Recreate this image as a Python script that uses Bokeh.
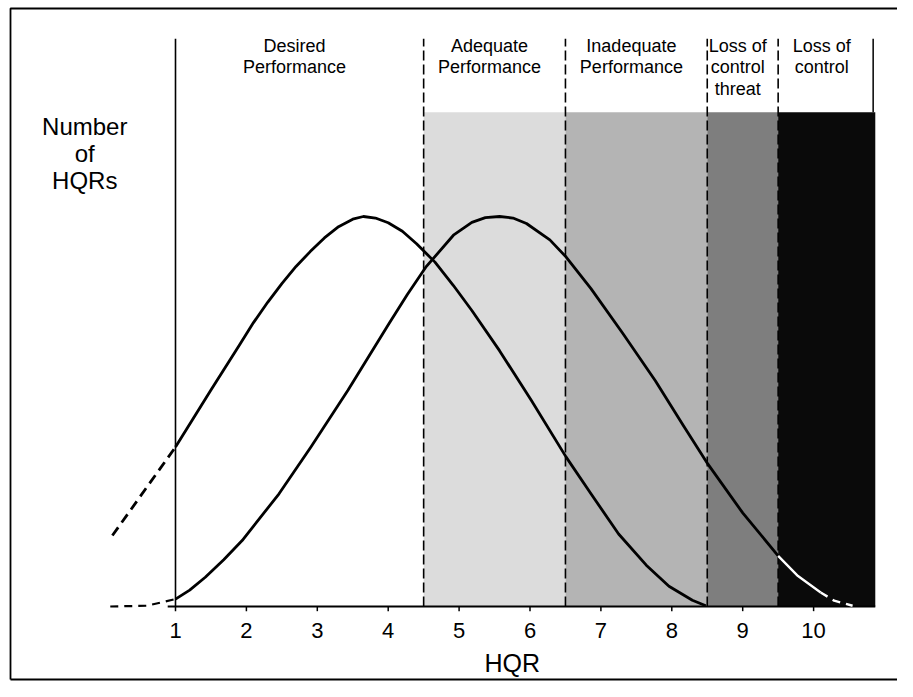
import numpy as np
from bokeh.plotting import figure
from bokeh.models import Range1d
from bokeh.embed import file_html
from bokeh.resources import INLINE
from bokeh.core.properties import value

# ---------------- data ----------------
zone_names = ["Desired\nPerformance", "Adequate\nPerformance", "Inadequate\nPerformance",
              "Loss of\ncontrol\nthreat", "Loss of\ncontrol"]
zone_edges = [1.0, 4.5, 6.5, 8.5, 9.5, 10.87]
zone_fills = [None, "#dcdcdc", "#b4b4b4", "#7e7e7e", "#0a0a0a"]

hqr_ticks = [1, 2, 3, 4, 5, 6, 7, 8, 9, 10]
tick_labels = ["1", "2", "3", "4", "5", "6", "7", "8", "9", "10"]
x_title = "HQR"
y_title = ["Number", "of", "HQRs"]

# curve peaking near HQR 3.65
curve_a_x = [1.0, 1.5, 1.9, 2.1, 2.3, 2.5, 2.7, 2.9, 3.1, 3.3, 3.5, 3.65, 3.82, 4.0, 4.2,
             4.4, 4.66, 4.92, 5.18, 5.57, 6.02, 6.51, 6.86, 7.25, 7.64, 7.96, 8.29, 8.48]
curve_a_y = [40.9, 55.5, 67.0, 72.8, 78.0, 82.8, 87.2, 91.0, 94.5, 97.4, 99.3, 100.0, 99.6,
             98.4, 96.2, 93.0, 88.3, 82.3, 75.9, 65.6, 52.8, 38.3, 28.9, 18.6, 10.6, 5.2, 1.6, 0.2]
curve_a_ext_x = [0.11, 1.0]
curve_a_ext_y = [18.2, 40.9]

# curve peaking near HQR 5.6
curve_b_x = [1.0, 1.2, 1.42, 1.68, 1.94, 2.46, 2.91, 3.43, 4.01, 4.27, 4.53, 4.92, 5.18,
             5.37, 5.57, 5.76, 5.95, 6.28, 6.51, 6.86, 7.31, 7.77, 8.16, 8.51, 9.0, 9.5,
             9.78, 10.1]
curve_b_y = [1.9, 4.2, 7.5, 12.0, 16.9, 28.9, 40.9, 55.4, 72.5, 80.0, 87.0, 95.2, 98.5,
             99.7, 100.0, 99.6, 98.2, 94.0, 89.6, 81.5, 70.0, 57.8, 46.5, 36.5, 24.0, 13.0,
             7.8, 3.6]
curve_b_ext_left_x = [0.08, 0.6, 1.0]
curve_b_ext_left_y = [0.0, 0.2, 1.9]
curve_b_tail_x = [10.1, 10.29, 10.55]
curve_b_tail_y = [3.6, 1.5, 0.2]

shade_top = 126.7
label_top = 145.6

# ---------------- figure ----------------
W, H = 897, 681
PX_PER_X, PX_PER_Y = 70.9, 3.9
x0 = 1 - 175 / PX_PER_X
x1 = x0 + W / PX_PER_X
y1 = 606 / PX_PER_Y
y0 = y1 - H / PX_PER_Y
p = figure(width=W, height=H, x_range=Range1d(x0, x1), y_range=Range1d(y0, y1),
           x_axis_type=None, y_axis_type=None, output_backend="svg",
           toolbar_location=None, min_border=0)
p.grid.visible = False
p.outline_line_color = None
p.background_fill_color = "white"

FONT = value("Liberation Sans")


def lift(fs):
    # raise text so the glyph baseline sits where intended
    return 0.38 * fs / PX_PER_Y


# shaded zones
for i, fill in enumerate(zone_fills):
    if fill is None:
        continue
    p.quad(left=zone_edges[i], right=zone_edges[i + 1], bottom=0, top=shade_top,
           fill_color=fill, line_color=None)

# zone boundaries
p.segment(x0=[zone_edges[0]], y0=[0], x1=[zone_edges[0]], y1=[label_top],
          line_color="black", line_width=1.6)
for e in zone_edges[1:-1]:
    p.segment(x0=[e], y0=[0], x1=[e], y1=[label_top], line_color="black",
              line_width=1.6, line_dash="10 4")
p.segment(x0=[zone_edges[-1] - 0.03], y0=[shade_top], x1=[zone_edges[-1] - 0.03], y1=[label_top],
          line_color="black", line_width=1.5)

# baseline and ticks
p.segment(x0=[0.89], y0=[0], x1=[zone_edges[-1]], y1=[0], line_color="black", line_width=2)
p.segment(x0=hqr_ticks, y0=[0] * len(hqr_ticks), x1=hqr_ticks, y1=[-1.2] * len(hqr_ticks),
          line_color="black", line_width=1.5)

# curves
p.line(curve_a_x, curve_a_y, line_color="black", line_width=2.8, line_join="round")
p.line(curve_a_ext_x, curve_a_ext_y, line_color="black", line_width=2.8, line_dash="10 6")
p.line(curve_b_x, curve_b_y, line_color="black", line_width=2.8, line_join="round")
p.line(curve_b_ext_left_x, curve_b_ext_left_y, line_color="black", line_width=2.2, line_dash="8 6")

# part of the second curve inside the black zone is drawn white
bx = np.array(curve_b_x)
by = np.array(curve_b_y)
mask = bx >= zone_edges[4]
p.line(bx[mask], by[mask], line_color="white", line_width=2.4, line_join="round")
p.line(curve_b_tail_x, curve_b_tail_y, line_color="white", line_width=2.4, line_dash="8 6")

# zone labels
line_y = [142.0, 136.6, 131.0]
for i, name in enumerate(zone_names):
    cx = (zone_edges[i] + zone_edges[i + 1]) / 2 - 0.07
    for j, ln in enumerate(name.split("\n")):
        p.text(x=[cx], y=[line_y[j] + lift(18)], text=[ln], text_align="center",
               text_baseline="alphabetic", text_font=FONT, text_font_size="18px",
               text_color="black")

# y title
for j, ln in enumerate(y_title):
    p.text(x=[-0.28], y=[120.8 - 7.0 * j + lift(24)], text=[ln], text_align="center",
           text_baseline="alphabetic", text_font=FONT, text_font_size="24px",
           text_color="black")

# tick labels
p.text(x=hqr_ticks, y=[-8.2 + lift(22)] * len(hqr_ticks), text=tick_labels, text_align="center",
       text_baseline="alphabetic", text_font=FONT, text_font_size="22px", text_color="black")
p.text(x=[5.75], y=[-16.9 + lift(25)], text=[x_title], text_align="center",
       text_baseline="alphabetic", text_font=FONT, text_font_size="25px", text_color="black")

# scanned frame (top, left, bottom edges)
fx = x0 + 10 / PX_PER_X
fy_top = y1 - 8 / PX_PER_Y
fy_bot = y1 - 679 / PX_PER_Y
p.line([x1, fx, fx], [fy_top, fy_top, fy_bot], line_color="black", line_width=1.8)
p.line([fx, x1], [fy_bot, fy_bot], line_color="black", line_width=1.8)

open("out.html", "w").write(file_html(p, INLINE))
